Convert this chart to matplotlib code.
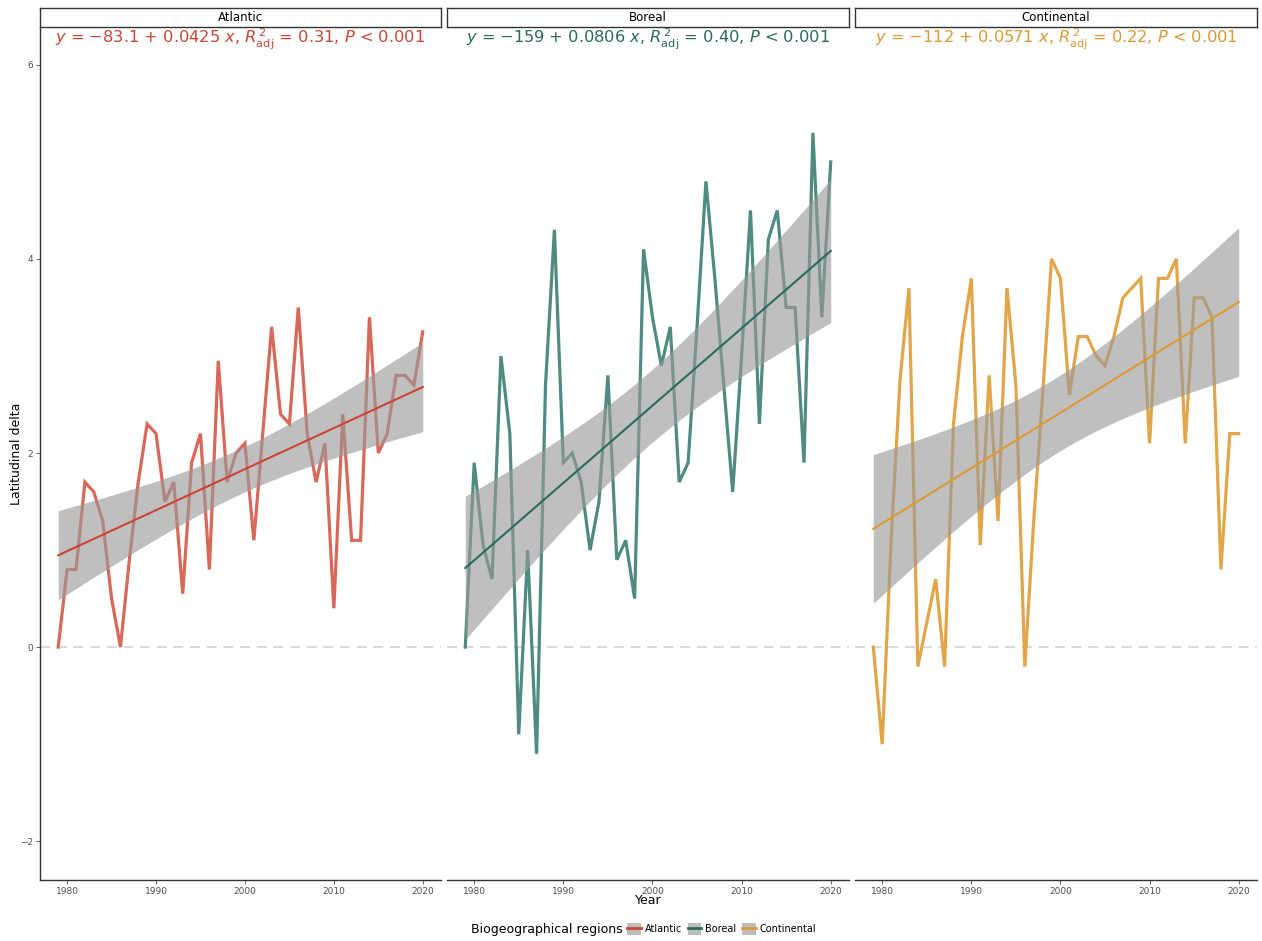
import numpy as np
import matplotlib
matplotlib.use("Agg")
import matplotlib.pyplot as plt
from matplotlib.lines import Line2D
from matplotlib.patches import Patch
from matplotlib.legend_handler import HandlerTuple

years = np.array([1979, 1980, 1981, 1982, 1983, 1984, 1985, 1986, 1987, 1988,
                  1989, 1990, 1991, 1992, 1993, 1994, 1995, 1996, 1997, 1998,
                  1999, 2000, 2001, 2002, 2003, 2004, 2005, 2006, 2007, 2008,
                  2009, 2010, 2011, 2012, 2013, 2014, 2015, 2016, 2017, 2018,
                  2019, 2020])

atlantic = [0, 0.8, 0.8, 1.7, 1.6, 1.3, 0.5, 0, 0.9, 1.7,
            2.3, 2.2, 1.5, 1.7, 0.55, 1.9, 2.2, 0.8, 2.95, 1.7,
            2.0, 2.1, 1.1, 2.2, 3.3, 2.4, 2.3, 3.5, 2.2, 1.7,
            2.1, 0.4, 2.4, 1.1, 1.1, 3.4, 2.0, 2.2, 2.8, 2.8,
            2.7, 3.25]
boreal = [0, 1.9, 1.05, 0.7, 3.0, 2.2, -0.9, 1.0, -1.1, 2.7,
          4.3, 1.9, 2.0, 1.7, 1.0, 1.5, 2.8, 0.9, 1.1, 0.5,
          4.1, 3.4, 2.9, 3.3, 1.7, 1.9, 3.3, 4.8, 3.8, 2.7,
          1.6, 3.0, 4.5, 2.3, 4.2, 4.5, 3.5, 3.5, 1.9, 5.3,
          3.4, 5.0]
continental = [0, -1.0, 1.1, 2.75, 3.7, -0.2, 0.25, 0.7, -0.2, 2.3,
               3.2, 3.8, 1.05, 2.8, 1.3, 3.7, 2.7, -0.2, 1.3, 2.6,
               4.0, 3.8, 2.6, 3.2, 3.2, 3.0, 2.9, 3.2, 3.6, 3.7,
               3.8, 2.1, 3.8, 3.8, 4.0, 2.1, 3.6, 3.6, 3.4, 0.8,
               2.2, 2.2]

regions = ["Atlantic", "Boreal", "Continental"]
series = [atlantic, boreal, continental]
line_colors = ["#d8685a", "#4f8b7e", "#e2a649"]
fit_colors = ["#cc4436", "#2a6b5c", "#dd9a33"]
eq_labels = [
    r"$y$ = $-$83.1 + 0.0425 $x$, $R^{\,2}_{\mathrm{adj}}$ = 0.31, $P$ < 0.001",
    r"$y$ = $-$159 + 0.0806 $x$, $R^{\,2}_{\mathrm{adj}}$ = 0.40, $P$ < 0.001",
    r"$y$ = $-$112 + 0.0571 $x$, $R^{\,2}_{\mathrm{adj}}$ = 0.22, $P$ < 0.001",
]
t_crit = 2.021  # t quantile, 95%, df = 40

W, H = 1262, 941
fig = plt.figure(figsize=(W / 100, H / 100), dpi=100)

panels = [(40, 441), (447, 849), (855, 1257)]
top, bottom = 28, 880

for i, (L, R) in enumerate(panels):
    ax = fig.add_axes([L / W, (H - bottom) / H, (R - L) / W, (bottom - top) / H])
    y = np.array(series[i], dtype=float)
    x = years.astype(float)

    ax.axhline(0, color="#d3d3d3", lw=1.2, ls=(0, (6, 4)), zorder=0)
    ax.plot(x, y, color=line_colors[i], lw=2.3, zorder=2, solid_joinstyle="miter")

    # linear fit with 95% confidence band
    b, a = np.polyfit(x, y, 1)
    xs = np.linspace(x.min(), x.max(), 100)
    n = len(x)
    resid = y - (a + b * x)
    s = np.sqrt(np.sum(resid ** 2) / (n - 2))
    se = s * np.sqrt(1 / n + (xs - x.mean()) ** 2 / np.sum((x - x.mean()) ** 2))
    yh = a + b * xs
    ax.fill_between(xs, yh - t_crit * se, yh + t_crit * se, color="#999999",
                    alpha=0.62, lw=0, zorder=3)
    ax.plot(xs, yh, color=fit_colors[i], lw=1.5, zorder=4)

    ax.text(0.5, 0.986, eq_labels[i], transform=ax.transAxes, ha="center",
            va="center", color=fit_colors[i], fontsize=11.7)

    ax.set_xlim(1976.95, 2022.05)
    ax.set_ylim(-2.4, 6.38)
    ax.set_xticks([1980, 1990, 2000, 2010, 2020])
    ax.set_yticks([-2, 0, 2, 4, 6])
    ax.tick_params(labelsize=6.5, colors="#4d4d4d", length=3, width=0.6, pad=2)
    for sp in ["top", "right"]:
        ax.spines[sp].set_visible(False)
    ax.spines["bottom"].set_color("#333333")
    ax.spines["bottom"].set_linewidth(1.0)
    if i == 0:
        ax.spines["left"].set_color("#333333")
        ax.spines["left"].set_linewidth(1.0)
    else:
        ax.spines["left"].set_visible(False)
        ax.tick_params(axis="y", left=False, labelleft=False)

    # facet strip
    st = fig.add_axes([L / W, (H - 27) / H, (R - L) / W, 19 / H])
    st.set_xticks([])
    st.set_yticks([])
    for sp in st.spines.values():
        sp.set_color("#333333")
        sp.set_linewidth(1.0)
    st.text(0.5, 0.5, regions[i], ha="center", va="center", fontsize=8.5)

fig.text(17 / W, 1 - 454 / H, "Latitudinal delta", rotation=90, ha="center",
         va="center", fontsize=9)
fig.text(648 / W, 1 - 901 / H, "Year", ha="center", va="center", fontsize=9)

handles = [(Patch(facecolor="#bdbdbd", edgecolor="none"),
            Line2D([], [], color=fit_colors[i], lw=2)) for i in range(3)]
fig.text(623 / W, 1 - 929 / H, "Biogeographical regions", ha="right",
         va="center", fontsize=9)
fig.legend(handles, regions, loc="center left", bbox_to_anchor=(627 / W, 1 - 929 / H),
           ncol=3, frameon=False, fontsize=7, handler_map={tuple: HandlerTuple(ndivide=1)},
           handlelength=1.4, handleheight=1.4, handletextpad=0.4, columnspacing=0.6,
           borderaxespad=0, borderpad=0)

fig.savefig("out.png", dpi=100)
